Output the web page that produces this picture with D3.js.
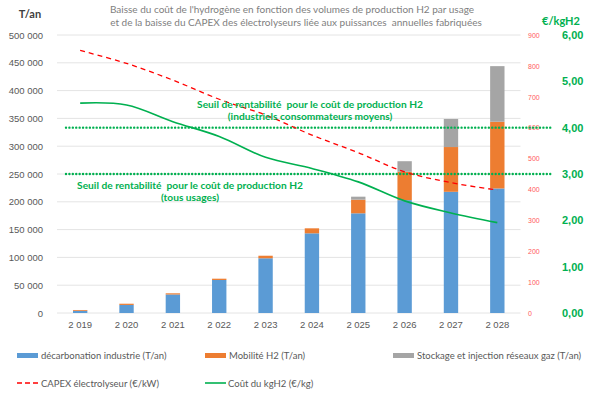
<!DOCTYPE html>
<html><head><meta charset="utf-8">
<script src="https://cdn.jsdelivr.net/npm/d3@7"></script>
<style>body{margin:0;background:#fff}svg{display:block;font-family:Lato,"Liberation Sans",sans-serif}text{white-space:pre}</style>
</head><body><svg id="c" width="592" height="400"></svg>
<script>
const years = ["2 019","2 020","2 021","2 022","2 023","2 024","2 025","2 026","2 027","2 028"];
const industrie = [4000,14500,33300,59400,98400,143300,179300,203000,218000,224000];
const mobilite = [1400,2200,2100,2300,4600,9000,24500,51000,80500,120000];
const stockage = [0,0,0,0,0,0,5400,19000,50500,100000];
const capex = [850,808,754,692,641,576,519,457,422,398];
const cout = [4.53,4.49,4.13,3.81,3.36,3.12,2.83,2.42,2.16,1.95];
const seuils = [4.0,3.0];
const leftTicks = [0,50000,100000,150000,200000,250000,300000,350000,400000,450000,500000];
const redTicks = [0,100,200,300,400,500,600,700,800,900];
const greenTicks = [0,1,2,3,4,5,6];

const svg = d3.select("#c");
const pTop=35, pBottom=313, pLeft=57, pRight=520.5;
const x = d3.scaleBand().domain(years).range([pLeft,pRight]).paddingInner(0.69).paddingOuter(0.345);
const y = d3.scaleLinear().domain([0,500000]).range([pBottom,pTop]);
const yR = d3.scaleLinear().domain([0,900]).range([pBottom,pTop]);
const yG = d3.scaleLinear().domain([0,6]).range([pBottom,pTop]);
const fmt = d => d3.format(",")(d).replace(/,/g," ");

// gridlines
svg.append("g").selectAll("line").data(leftTicks).join("line")
  .attr("x1",pLeft).attr("x2",pRight).attr("y1",d=>y(d)).attr("y2",d=>y(d))
  .attr("stroke","#e4e4e4").attr("stroke-width",1);

// left axis
const ax = svg.append("g").attr("transform",`translate(${pLeft},0)`)
  .call(d3.axisLeft(y).tickValues(leftTicks).tickFormat(fmt).tickSize(0).tickPadding(14));
ax.select(".domain").remove();
ax.selectAll("text").attr("fill","#595959").attr("font-size",9.5);

// red axis
const ar = svg.append("g").attr("transform",`translate(526,0)`)
  .call(d3.axisRight(yR).tickValues(redTicks).tickSize(0).tickPadding(2));
ar.select(".domain").remove();
ar.selectAll("text").attr("fill","#ff5b5b").attr("font-size",7);

// green axis
const ag = svg.append("g").attr("transform",`translate(560,0)`)
  .call(d3.axisRight(yG).tickValues(greenTicks).tickFormat(d=>d3.format(".2f")(d).replace(".",",")).tickSize(0).tickPadding(2));
ag.select(".domain").remove();
ag.selectAll("text").attr("fill","#00B050").attr("font-size",11).attr("font-weight","bold");

// x axis
const axb = svg.append("g").attr("transform",`translate(0,${pBottom})`)
  .call(d3.axisBottom(x).tickSize(0).tickPadding(8));
axb.select(".domain").remove();
axb.selectAll("text").attr("fill","#595959").attr("font-size",9.5);

// stacked bars
const rows = years.map((yr,i)=>({year:yr, industrie:industrie[i], mobilite:mobilite[i], stockage:stockage[i]}));
const keys = ["industrie","mobilite","stockage"];
const colors = {industrie:"#5B9BD5", mobilite:"#ED7D31", stockage:"#A5A5A5"};
const stack = d3.stack().keys(keys)(rows);
svg.append("g").selectAll("g").data(stack).join("g").attr("fill",d=>colors[d.key])
  .selectAll("rect").data(d=>d).join("rect")
  .attr("x",d=>x(d.data.year)).attr("width",x.bandwidth())
  .attr("y",d=>y(d[1])).attr("height",d=>Math.max(0,y(d[0])-y(d[1])));

// threshold dotted lines
svg.append("g").selectAll("line").data(seuils).join("line")
  .attr("x1",66).attr("x2",553).attr("y1",d=>yG(d)).attr("y2",d=>yG(d))
  .attr("stroke","#00B050").attr("stroke-width",2.4).attr("stroke-dasharray","0.01 3.4").attr("stroke-linecap","round");

// lines
const cx = d => x(d)+x.bandwidth()/2;
svg.append("path").datum(capex)
  .attr("d",d3.line().x((d,i)=>cx(years[i])).y(d=>yR(d)).curve(d3.curveCatmullRom.alpha(0.5)))
  .attr("fill","none").attr("stroke","#FF0000").attr("stroke-width",1.3).attr("stroke-dasharray","5 4");
svg.append("path").datum(cout)
  .attr("d",d3.line().x((d,i)=>cx(years[i])).y(d=>yG(d)).curve(d3.curveCatmullRom.alpha(0.5)))
  .attr("fill","none").attr("stroke","#00B050").attr("stroke-width",1.6);

// title
const t = svg.append("text").attr("fill","#808080").attr("font-size",10).attr("text-anchor","middle");
t.append("tspan").attr("x",292).attr("y",13).text("Baisse du coût de l'hydrogène en fonction des volumes de production H2 par usage");
t.append("tspan").attr("x",296).attr("y",26).text("et de la baisse du CAPEX des électrolyseurs liée aux puissances  annuelles fabriquées");

svg.append("text").attr("x",30).attr("y",18).attr("text-anchor","middle").attr("font-size",11).attr("font-weight","bold").attr("fill","#404040").text("T/an");
svg.append("text").attr("x",561).attr("y",25).attr("text-anchor","middle").attr("font-size",11).attr("font-weight","bold").attr("fill","#00B050").text("€/kgH2");

// annotations
const ann = [
  {x:310,y:108,t:"Seuil de rentabilité  pour le coût de production H2"},
  {x:310,y:120,t:"(industriels consommateurs moyens)"},
  {x:190,y:189,t:"Seuil de rentabilité  pour le coût de production H2"},
  {x:190,y:201,t:"(tous usages)"}
];
svg.append("g").selectAll("text").data(ann).join("text")
  .attr("x",d=>d.x).attr("y",d=>d.y).attr("text-anchor","middle")
  .attr("font-size",10.2).attr("font-weight","bold").attr("fill","#00B050").text(d=>d.t);

// legend
const lg = svg.append("g").attr("font-size",9.5).attr("fill","#595959");
const leg1 = [{k:"industrie",x:17,t:"décarbonation industrie (T/an)"},{k:"mobilite",x:205,t:"Mobilité H2 (T/an)"},{k:"stockage",x:393,t:"Stockage et injection réseaux gaz (T/an)"}];
leg1.forEach(d=>{
  lg.append("rect").attr("x",d.x).attr("y",353).attr("width",21).attr("height",5).attr("fill",colors[d.k]);
  lg.append("text").attr("x",d.x+24).attr("y",359).text(d.t);
});
lg.append("line").attr("x1",17).attr("x2",38).attr("y1",383).attr("y2",383).attr("stroke","#FF0000").attr("stroke-width",1.3).attr("stroke-dasharray","5 3");
lg.append("text").attr("x",41).attr("y",386.5).text("CAPEX électrolyseur (€/kW)");
lg.append("line").attr("x1",205).attr("x2",226).attr("y1",383).attr("y2",383).attr("stroke","#00B050").attr("stroke-width",1.6);
lg.append("text").attr("x",228).attr("y",386.5).text("Coût du kgH2 (€/kg)");
</script></body></html>
